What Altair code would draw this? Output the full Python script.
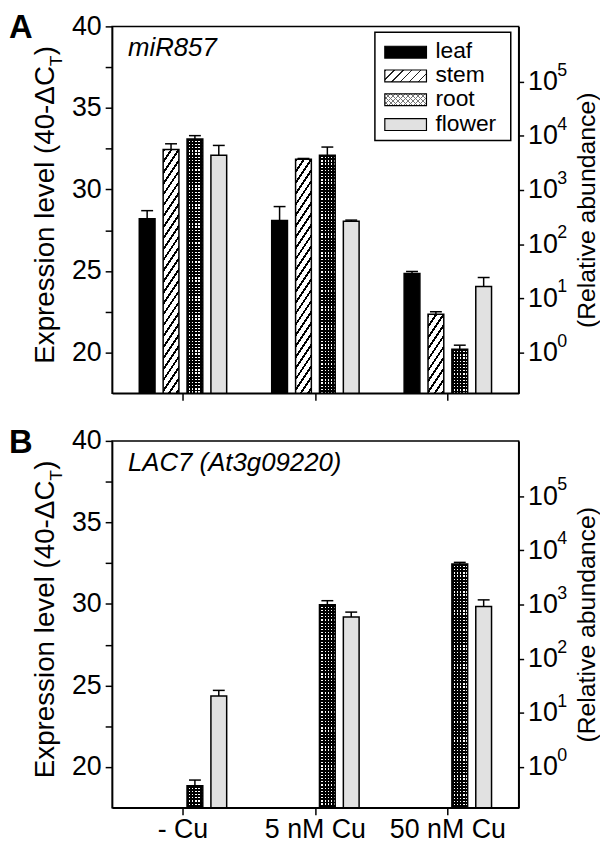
import math
import altair as alt
import pandas as pd

# ---------------- data ----------------
groups = ["- Cu", "5 nM Cu", "50 nM Cu"]
tissues = ["leaf", "stem", "root", "flower"]

# Panel A: miR857
a_leaf = [28.2, 28.1, 24.85]
a_leaf_err = [28.7, 28.95, 24.97]
a_stem = [32.45, 31.85, 22.35]
a_stem_err = [32.8, 31.9, 22.5]
a_root = [33.1, 32.1, 20.2]
a_root_err = [33.3, 32.6, 20.45]
a_flower = [32.1, 28.05, 24.05]
a_flower_err = [32.7, 28.12, 24.6]

# Panel B: LAC7 (At3g09220)
b_root = [18.85, 29.95, 32.45]
b_root_err = [19.2, 30.2, 32.55]
b_flower = [24.35, 29.2, 29.85]
b_flower_err = [24.7, 29.5, 30.25]

left_ticks = [20, 22.5, 25, 27.5, 30, 32.5, 35, 37.5, 40]
exponents = [0, 1, 2, 3, 4, 5]

# ---------------- layout / style ----------------
W, H = 410, 370
Y_MIN, Y_MAX = 17.5, 40.0
PX = H / (Y_MAX - Y_MIN)
FONT = "Liberation Sans"
PI_X, PO_X, PI_O = 0.34, 0.205, 0.34
step_x = W / (3 - PI_X + 2 * PO_X)
band_x = step_x * (1 - PI_X)
BAR_W = band_x / (4 - PI_O) * (1 - PI_O)

x_scale = alt.Scale(domain=groups, paddingInner=PI_X, paddingOuter=PO_X)
o_scale = alt.Scale(domain=tissues, paddingInner=PI_O, paddingOuter=0)
y_scale = alt.Scale(domain=[Y_MIN, Y_MAX], nice=False, zero=False)

one = pd.DataFrame({"k": [0]})
TRANSP = "rgba(0,0,0,0)"


def frame(series):
    rows = []
    for t, (vals, errs) in series.items():
        for g, v, e in zip(groups, vals, errs):
            rows.append({"group": g, "tissue": t, "value": v, "err": e})
    return pd.DataFrame(rows)


dfA = frame({"leaf": (a_leaf, a_leaf_err), "stem": (a_stem, a_stem_err),
             "root": (a_root, a_root_err), "flower": (a_flower, a_flower_err)})
dfB = frame({"root": (b_root, b_root_err), "flower": (b_flower, b_flower_err)})


def stripes(length, period, lw, line, bg, x1, y1, x2, y2):
    n = int(math.ceil(length / period))
    stops = []
    for i in range(n):
        a = i * period / length
        b = min((i * period + lw) / length, 1.0)
        c = min((i + 1) * period / length, 1.0)
        stops += [{"offset": round(a, 5), "color": line},
                  {"offset": round(b, 5), "color": line},
                  {"offset": round(b, 5), "color": bg},
                  {"offset": round(c, 5), "color": bg}]
    return {"gradient": "linear", "x1": x1, "y1": y1, "x2": x2, "y2": y2, "stops": stops}


def diag(w, h, m, period, lw, line, bg, mirror=False):
    dx = m * w / h
    k = (h + m * w) / (h * (1 + dx * dx))
    L = h + m * w
    if mirror:
        return stripes(L, period, lw, line, bg, 1, 0, 1 - k * dx, k)
    return stripes(L, period, lw, line, bg, 0, 0, k * dx, k)


def bars(df, fill, stroke=True):
    kw = dict(fill=fill, opacity=1)
    if stroke:
        kw.update(stroke="black", strokeWidth=1.5)
    else:
        kw.update(strokeWidth=0)
    return alt.Chart(df).mark_bar(**kw).encode(
        x=alt.X("group:N", scale=x_scale, axis=None),
        xOffset=alt.XOffset("tissue:N", scale=o_scale),
        y=alt.Y("value:Q", scale=y_scale, axis=None),
        y2=alt.Y2Datum(Y_MIN),
    )


def txt(s, x, y, size, **kw):
    return alt.Chart(one).mark_text(text=s, fontSize=size, font=FONT, color="black", **kw).encode(
        x=alt.value(x), y=alt.value(y))


def rect(x, x2, y, y2, fill, **kw):
    return alt.Chart(one).mark_rect(fill=fill, **kw).encode(
        x=alt.value(x), x2=alt.value(x2), y=alt.value(y), y2=alt.value(y2))


def panel(df, letter, title, show_labels, legend):
    layers = []
    for t in tissues:
        sub = df[df.tissue == t]
        if sub.empty:
            continue
        if t == "leaf":
            layers.append(bars(sub, "black"))
        elif t == "flower":
            layers.append(bars(sub, "#e1e1e1"))
        elif t == "stem":
            for i in range(len(sub)):
                r = sub.iloc[[i]]
                h = (float(r.value.iloc[0]) - Y_MIN) * PX
                layers.append(bars(r, diag(BAR_W, h, 1.5, 11, 3.4, "black", "white")))
        elif t == "root":
            for i in range(len(sub)):
                r = sub.iloc[[i]]
                h = (float(r.value.iloc[0]) - Y_MIN) * PX
                layers.append(bars(r, stripes(h, 3.2, 1.9, "black", "white", 0, 0, 0, 1), stroke=False))
                layers.append(bars(r, stripes(BAR_W, 3.2, 1.9, "black", TRANSP, 0, 0, 1, 0)))

    x_axis = alt.Axis(labels=show_labels, ticks=True, tickSize=7, labelFontSize=27,
                      labelPadding=2, labelAngle=0, title=None, domain=True)
    y_axis = alt.Axis(values=left_ticks, labelExpr="datum.value % 5 == 0 ? datum.label : ''",
                      tickSize=7, labelPadding=4, labelFontSize=27, labelOverlap=False,
                      labelFlush=False, title=None)
    layers.append(alt.Chart(df).mark_rule(color="black", strokeWidth=1.5).encode(
        x=alt.X("group:N", scale=x_scale, axis=x_axis),
        xOffset=alt.XOffset("tissue:N", scale=o_scale),
        y=alt.Y("value:Q", scale=y_scale, axis=y_axis),
        y2="err:Q",
    ))
    layers.append(alt.Chart(df).mark_tick(color="black", thickness=1.5, size=12, opacity=1,
                                          orient="horizontal").encode(
        x=alt.X("group:N", scale=x_scale, axis=None),
        xOffset=alt.XOffset("tissue:N", scale=o_scale),
        y=alt.Y("err:Q", scale=y_scale, axis=None),
    ))

    exp_df = pd.DataFrame({"pos": [20 + n * math.log2(10) for n in exponents],
                           "sup": [str(n) for n in exponents]})
    right_axis = alt.Axis(orient="right", values=[float(v) for v in exp_df.pos], labelExpr="'10'",
                          tickSize=5, labelPadding=4, labelFontSize=27, labelAlign="left",
                          labelOverlap=False, labelFlush=False,
                          title="(Relative abundance)", titleAngle=270, titleX=68, titleY=H / 2,
                          titleAlign="center", titleBaseline="middle", titleFontSize=25,
                          titleFontWeight="normal")
    layers.append(alt.Chart(exp_df).mark_text(align="left", baseline="middle", fontSize=18, dy=-11,
                                              font=FONT, color="black").encode(
        x=alt.value(W + 39),
        y=alt.Y("pos:Q", scale=y_scale, axis=right_axis),
        text="sup:N",
    ))

    if legend:
        layers.append(rect(W - 145, W - 8, 6, 115, "white", stroke="black", strokeWidth=1.5))
        rows = [26, 50, 74, 99]
        sx, sx2 = W - 135, W - 93
        for t, c in zip(tissues, rows):
            if t == "leaf":
                layers.append(rect(sx, sx2, c - 6, c + 6, "black", stroke="black", strokeWidth=1.2))
            elif t == "stem":
                layers.append(rect(sx, sx2, c - 6, c + 6, diag(42, 12, 1.0, 9, 1.4, "#222", "white"),
                                   stroke="black", strokeWidth=1.2))
            elif t == "root":
                layers.append(rect(sx, sx2, c - 6, c + 6, diag(42, 12, 1.0, 5, 1.0, "#777", "white")))
                layers.append(rect(sx, sx2, c - 6, c + 6,
                                   diag(42, 12, 1.0, 5, 1.0, "#777", TRANSP, mirror=True),
                                   stroke="black", strokeWidth=1.2))
            else:
                layers.append(rect(sx, sx2, c - 6, c + 6, "#e1e1e1", stroke="black", strokeWidth=1.2))
            layers.append(txt(t, W - 84, c - 1, 23, align="left", baseline="middle"))

    layers.append(txt(title, 16, 30, 26, fontStyle="italic", align="left", baseline="alphabetic"))
    layers.append(txt(letter, -104, 12, 33, fontWeight="bold", align="left", baseline="alphabetic"))
    layers.append(txt("Expression level (40-\u0394C", -59, 40, 28, angle=270, align="right",
                      baseline="alphabetic"))
    layers.append(txt("T", -51, 40, 17, angle=270, align="left", baseline="alphabetic"))
    layers.append(txt(")", -59, 29, 28, angle=270, align="left", baseline="alphabetic"))

    return (alt.layer(*layers)
            .resolve_axis(x="independent", y="independent")
            .properties(width=W, height=H))


pA = panel(dfA, "A", "miR857", False, True)
pB = panel(dfB, "B", "LAC7 (At3g09220)", True, False)

chart = alt.vconcat(pA, pB, spacing=48, bounds="flush", padding=0).configure_axis(
    domainColor="black", domainWidth=1.5, tickColor="black", tickWidth=1.5,
    labelColor="black", labelFont=FONT, titleFont=FONT, titleColor="black", grid=False,
).configure_view(stroke="black", strokeWidth=1.5)

chart.save("out.html", embed_options={"renderer": "svg", "actions": False})
